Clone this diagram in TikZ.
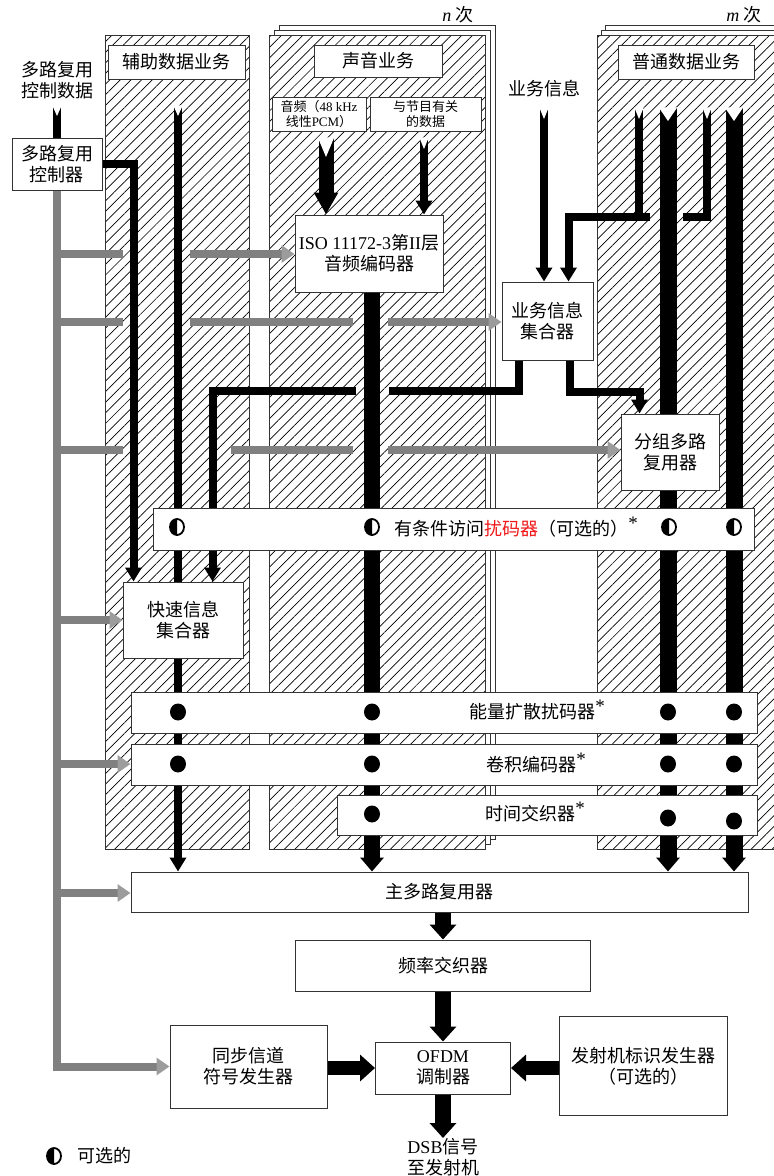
\documentclass[tikz,border=0pt]{standalone}
\usepackage{fontspec}
\setmainfont{Liberation Serif}
\newfontfamily\cjk{Noto Sans CJK SC}
\usetikzlibrary{arrows.meta,patterns.meta,calc}
\pgfdeclarelayer{back}
\pgfdeclarelayer{mid}
\pgfsetlayers{back,mid,main}
\definecolor{busgray}{HTML}{808080}
\definecolor{headgray}{HTML}{9C9C9C}
\definecolor{scrred}{HTML}{F01818}
\newcommand\lat[1]{{\rmfamily #1}}
\newcommand\starmark{\raisebox{0.32em}{\rmfamily\fontsize{19}{19}\selectfont *}}
\newcommand\notchat[3]{\fill[white] ($(#1)+(-#2/2-0.7,-0.6)$) -- ($(#1)+(#2/2+0.7,-0.6)$) -- ($(#1)+(0,#3)$) -- cycle;}
\newcommand\halfdot[2]{%
  \fill[white] (#1,#2) ellipse [x radius=7, y radius=8];
  \begin{scope}\clip (#1-10,#2-12) rectangle (#1,#2+12);
  \fill (#1,#2) ellipse [x radius=7, y radius=8];\end{scope}
  \draw[line width=1.8pt] (#1,#2) ellipse [x radius=7, y radius=8];}
\newcommand\fulldot[2]{\fill (#1,#2) ellipse [x radius=8, y radius=8.5];}
\tikzset{
  every node/.style={font=\cjk\fontsize{18}{21}\selectfont, align=center, inner sep=0pt},
  small/.style={font=\cjk\fontsize{13}{15}\selectfont},
  box/.style={draw=black!80, line width=1pt, fill=white},
  colline/.style={draw=black!80, line width=0.8pt},
  hatch/.style={pattern={Lines[angle=45,distance=7.5pt,line width=0.7pt]}},
  blk/.style={draw=black, line width=8pt},
  thk/.style={draw=black, line width=17pt},
  gry/.style={draw=busgray, line width=8pt},
  Hs/.tip={Triangle[width=16pt,length=14pt]},
  Hm/.tip={Triangle[width=23pt,length=22pt]},
  Ht/.tip={Triangle[width=23pt,length=14pt]},
  Hb/.tip={Triangle[width=26pt,length=15pt]},
  Hg/.tip={Triangle[width=17pt,length=13pt,color=headgray]},
}
\begin{document}
\begin{tikzpicture}[x=1pt,y=-1pt]
\useasboundingbox (0,0) rectangle (774,1176);

% ---------- background columns ----------
\begin{pgfonlayer}{back}
\fill[white] (0,0) rectangle (774,1176);
\draw[colline,fill=white] (105,35) rectangle (249,849);
\path[hatch] (105,35) rectangle (249,849);
\draw[colline] (105,35) rectangle (249,849);
\draw[colline,fill=white] (279,25) rectangle (495,839);
\draw[colline,fill=white] (274,30) rectangle (490,844);
\draw[colline,fill=white] (269,35) rectangle (485,849);
\path[hatch] (269,35) rectangle (485,849);
\draw[colline] (269,35) rectangle (485,849);
\draw[colline,fill=white] (605,25) rectangle (790,839);
\draw[colline,fill=white] (601,30) rectangle (790,844);
\draw[colline,fill=white] (597,35) rectangle (790,849);
\path[hatch] (597,35) rectangle (790,849);
\draw[colline] (597,35) rectangle (790,849);
\end{pgfonlayer}

% ---------- nodes ----------
\node (nlab) at (458,15) {\lat{\itshape n} 次};
\node (mlab) at (744,15) {\lat{\itshape m} 次};
\node (cdata) at (57,80) {多路复用\\控制数据};
\node[box, minimum width=90pt, minimum height=52pt] (ctrl) at (57,164) {多路复用\\控制器};
\node[box, minimum width=137pt, minimum height=34pt] (auxlab) at (176.5,62) {辅助数据业务};
\node[box, minimum width=128pt, minimum height=32pt] (audlab) at (378,61) {声音业务};
\node[box, small, minimum width=94pt, minimum height=34pt] (pcm) at (319,114) {音频（\lat{48 kHz}\\线性\lat{PCM}）};
\node[box, small, minimum width=111pt, minimum height=34pt] (pdat) at (425.5,114) {与节目有关\\的数据};
\node[box, minimum width=148pt, minimum height=77pt] (iso) at (369,253.5) {\lat{ISO 11172-3}第\lat{II}层\\音频编码器};
\node (svc) at (544,89) {业务信息};
\node[box, minimum width=91pt, minimum height=78pt] (sic) at (547.5,321) {业务信息\\集合器};
\node[box, minimum width=136pt, minimum height=34pt] (genlab) at (686,62) {普通数据业务};
\node[box, minimum width=98pt, minimum height=76pt] (pmux) at (670,452) {分组多路\\复用器};
\node[box, minimum width=601pt, minimum height=42pt] (ca) at (454,529.5) {};
\node (catext) at (516,527) {有条件访问\textcolor{scrred}{扰码器}（可选的）\starmark};
\node[box, minimum width=120pt, minimum height=76pt] (fic) at (183,620) {快速信息\\集合器};
\node[box, minimum width=626pt, minimum height=41pt] (ed) at (444,712.5) {};
\node (edtext) at (537,710) {能量扩散扰码器\starmark};
\node[box, minimum width=626pt, minimum height=41pt] (conv) at (444,764.5) {};
\node (convtext) at (536,763) {卷积编码器\starmark};
\node[box, minimum width=420pt, minimum height=40pt] (ti) at (547,815.5) {};
\node (titext) at (535,812) {时间交织器\starmark};
\node[box, minimum width=617pt, minimum height=40pt] (mmux) at (439.5,892) {主多路复用器};
\node[box, minimum width=295pt, minimum height=51pt] (fint) at (443,965.5) {频率交织器};
\node[box, minimum width=157pt, minimum height=83pt] (sync) at (248.5,1066.5) {同步信道\\符号发生器};
\node[box, minimum width=135pt, minimum height=52pt] (ofdm) at (443,1068) {\lat{OFDM}\\调制器};
\node[box, minimum width=168pt, minimum height=99pt] (tii) at (643,1066) {发射机标识发生器\\（可选的）};
\node (dsb) at (443,1157) {\lat{DSB}信号\\至发射机};
\node (legtext) at (104,1156) {可选的};

% ---------- connectors ----------
\begin{pgfonlayer}{mid}
% multiplex control data
\coordinate (cdt) at (57,106);
\draw[blk] (cdt) -- (ctrl.north);
% gray control bus
\draw[gry,-{Hg}] (ctrl.south) |- (sync.west);
\coordinate (g1a) at (57,254); \coordinate (g1b) at (123,254); \coordinate (g1c) at (190,254);
\draw[gry] (g1a) -- (g1b);
\draw[gry,-{Hg}] (g1c) -- (iso.west |- g1c);
\coordinate (g2a) at (57,322); \coordinate (g2b) at (123,322); \coordinate (g2c) at (190,322);
\coordinate (g2d) at (353,322); \coordinate (g2e) at (388,322);
\draw[gry] (g2a) -- (g2b);
\draw[gry] (g2c) -- (g2d);
\draw[gry,-{Hg}] (g2e) -- (sic.west |- g2e);
\coordinate (g3a) at (57,450); \coordinate (g3b) at (123,450); \coordinate (g3c) at (231,450);
\coordinate (g3d) at (353,450); \coordinate (g3e) at (388,450);
\draw[gry] (g3a) -- (g3b);
\draw[gry] (g3c) -- (g3d);
\draw[gry,-{Hg}] (g3e) -- (pmux.west |- g3e);
\coordinate (g4) at (57,620); \draw[gry,-{Hg}] (g4) -- (fic.west |- g4);
\coordinate (g5) at (57,764); \draw[gry,-{Hg}] (g5) -- (conv.west |- g5);
\coordinate (g6) at (57,893); \draw[gry,-{Hg}] (g6) -- (mmux.west |- g6);

% controller -> FIC
\draw[blk,-{Hs}] (ctrl.east) -| ($(fic.north west)+(11,0)$);
% auxiliary data line
\coordinate (auxt) at (178,106);
\draw[blk,-{Hs}] (auxt) -- (auxt |- mmux.north);
% audio inputs
\coordinate (pcmt) at (326,138);
\draw[draw=black,line width=15pt,-{Hm}] (pcmt) -- (pcmt |- iso.north);
\coordinate (pdt) at (424,138);
\draw[blk,-{Hs}] (pdt) -- (pdt |- iso.north);
% audio main line
\coordinate (audb) at ($(iso.south)+(3,0)$);
\draw[thk,line width=16pt,-{Ht}] (audb) -- (audb |- mmux.north);
% service information
\coordinate (svt) at (544,108);
\draw[blk,-{Hs}] (svt) -- (svt |- sic.north);
% SIC -> FIC
\coordinate (s1) at (356,391); \coordinate (s2) at (389,391);
\draw[blk] ($(sic.south west)+(17,0)$) |- (s2);
\draw[blk,-{Hs}] (s1) -| ($(fic.north west)+(90,0)$);
% SIC -> packet mux
\draw[blk,-{Hs}] ($(sic.south east)+(-24,0)$) -- ++(0,31) -| ($(pmux.north west)+(19,0)$);
% general data lines
\coordinate (gAt) at (639,108); \coordinate (gAc) at (639,217); \coordinate (gAe) at (650,217);
\draw[blk] (gAt) -- (gAc);
\draw[blk,-{Hs}] (gAe) -| ($(sic.north east)+(-25,0)$);
\coordinate (gBt) at (707,108); \coordinate (gBe) at (683,217);
\draw[blk] (gBt) |- (gBe);
\coordinate (gCt) at (668,108);
\draw[thk,-{Ht}] (gCt) -- (gCt |- mmux.north);
\coordinate (gDt) at (734,108);
\draw[thk,-{Ht}] (gDt) -- (gDt |- mmux.north);
% lower chain
\draw[draw=black,line width=16pt,-{Hb}] (fint.north |- mmux.south) -- (fint.north);
\draw[draw=black,line width=16pt,-{Hb}] (ofdm.north |- fint.south) -- (ofdm.north);
\draw[draw=black,line width=16pt,-{Hb}] (ofdm.south) -- (ofdm.south |- dsb.north);
\draw[draw=black,line width=14pt,-{Hb}] (sync.east |- ofdm.west) -- (ofdm.west);
\draw[draw=black,line width=14pt,-{Hb}] (tii.west |- ofdm.east) -- (ofdm.east);
% notched tails
\notchat{cdt}{8}{10}
\notchat{auxt}{8}{10}
\notchat{pcmt}{15}{19}
\notchat{pdt}{8}{11}
\notchat{svt}{8}{11}
\notchat{gAt}{8}{11}
\notchat{gBt}{8}{11}
\notchat{gCt}{17}{13}
\notchat{gDt}{17}{13}
\end{pgfonlayer}

% ---------- dots ----------
\halfdot{177}{527}
\halfdot{372}{527}
\halfdot{669}{527}
\halfdot{734}{527}
\fulldot{178}{712}
\fulldot{372}{712}
\fulldot{668}{712}
\fulldot{734}{712}
\fulldot{178}{764}
\fulldot{372}{764}
\fulldot{668}{764}
\fulldot{734}{764}
\fulldot{372}{814}
\fulldot{668}{818}
\fulldot{734}{821}
\halfdot{54}{1156}
\end{tikzpicture}
\end{document}
